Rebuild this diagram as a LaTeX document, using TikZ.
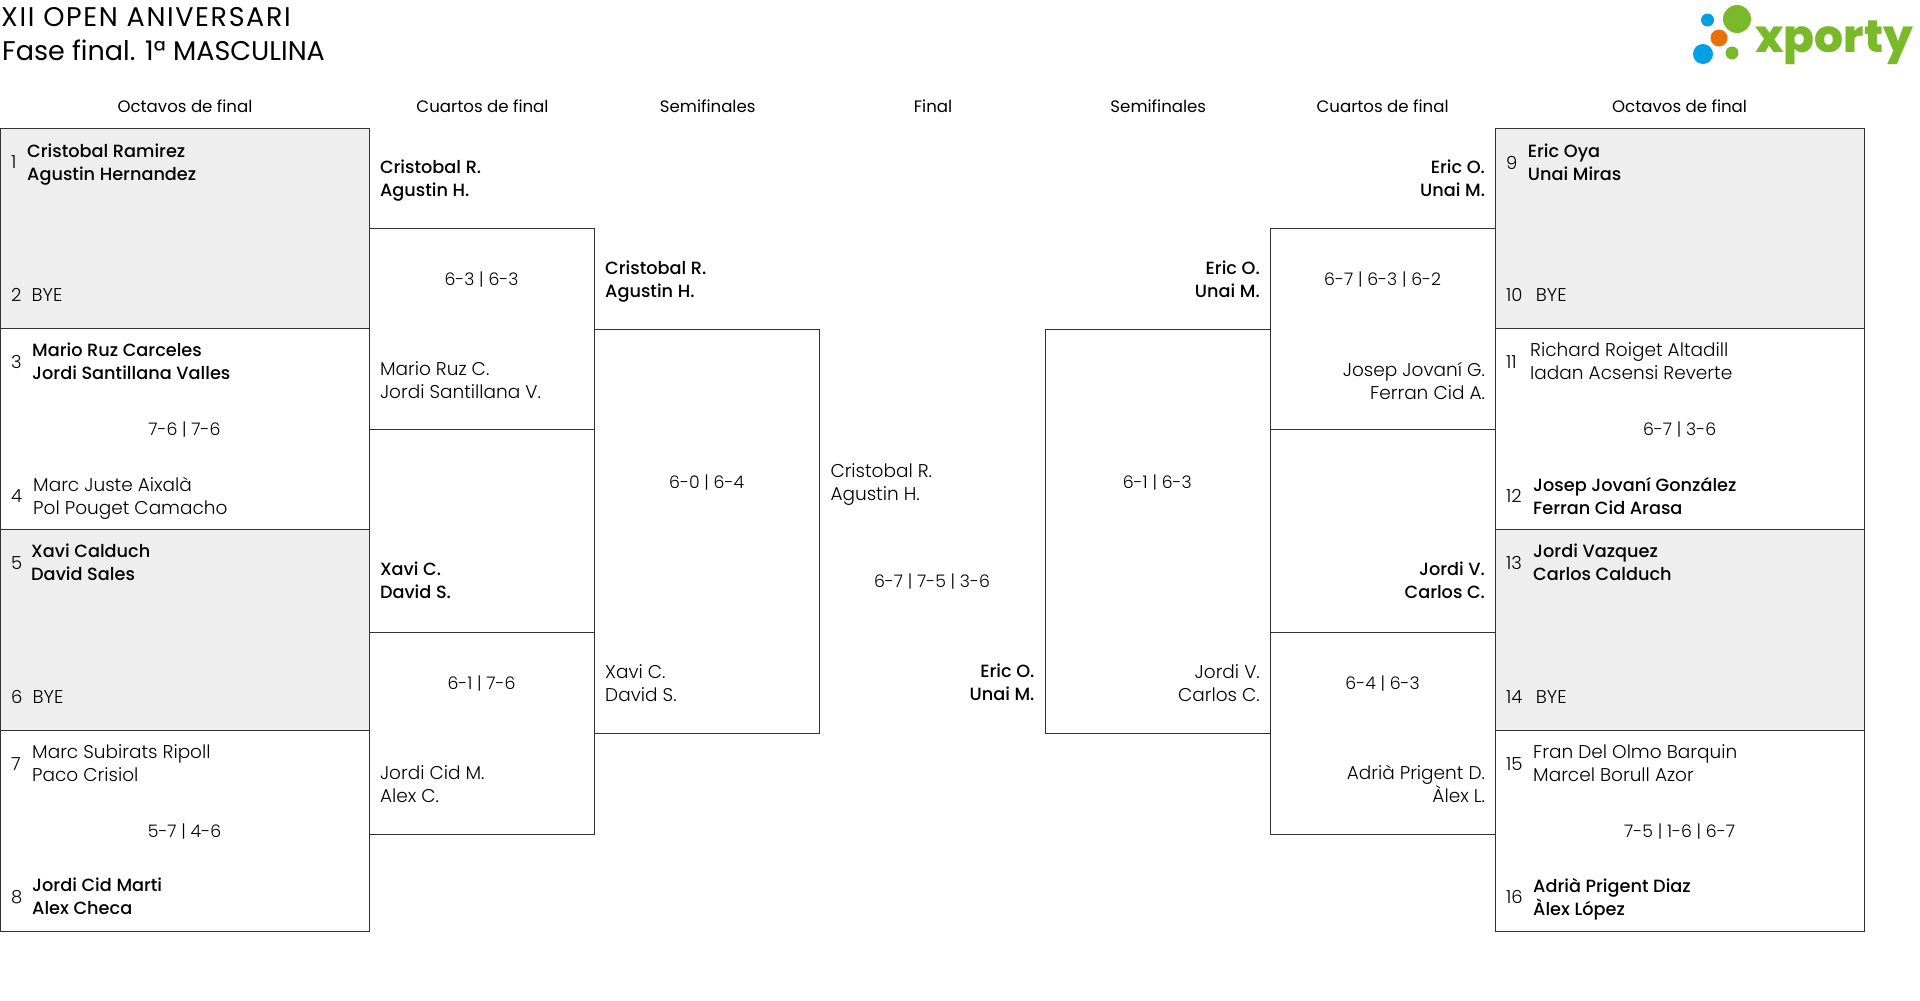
\documentclass[tikz,border=0pt]{standalone}
\usepackage{fontspec}
\setmainfont{Poppins Light}
\newfontfamily\regfont{Poppins}
\newfontfamily\winfont{Poppins Medium}
\newfontfamily\logofont{Poppins ExtraBold}
\definecolor{linegray}{HTML}{333333}
\definecolor{byegray}{HTML}{EEEEEE}
\definecolor{logogreen}{HTML}{7AB929}
\definecolor{logoblue}{HTML}{00A0E3}
\definecolor{logoorange}{HTML}{E8710A}
\tikzset{
  every node/.style={inner sep=0pt, text=black},
  box/.style={draw=linegray, line width=1pt},
  byebox/.style={box, fill=byegray},
  loser/.style={font=\fontsize{18.5}{23}\selectfont, align=left, execute at begin node=\strut, yshift=-3.9pt},
  winner/.style={font=\winfont\fontsize{17.7}{23}\selectfont, align=left, execute at begin node=\strut, yshift=-3.9pt},
  num/.style={font=\fontsize{18}{23}\selectfont, anchor=west, yshift=-1pt},
  score/.style={font=\fontsize{17.3}{23}\selectfont, yshift=-1pt},
  head/.style={font=\regfont\fontsize{16.6}{23}\selectfont},
  titletext/.style={font=\regfont\fontsize{27}{33}\selectfont, anchor=west}
}
\begin{document}
\begin{tikzpicture}[x=1pt,y=-1pt]
      \useasboundingbox (0,0) rectangle (1920,1001);

      % round 1 boxes
      \foreach \xa/\xb in {0.5/369.5, 1495.5/1864.7}{
        \filldraw[byebox] (\xa,128.7) rectangle (\xb,328.5);
        \draw[box] (\xa,328.5) rectangle (\xb,529.5);
        \filldraw[byebox] (\xa,529.5) rectangle (\xb,730.5);
        \draw[box] (\xa,730.5) rectangle (\xb,931);
      }
      % round 2 and 3 boxes
      \foreach \xa/\xb in {369.5/594.7, 1270.7/1495.5}{
        \draw[box] (\xa,228.3) rectangle (\xb,429.7);
        \draw[box] (\xa,632) rectangle (\xb,834.3);
      }
      \draw[box] (594.7,329) rectangle (819.7,733.3);
      \draw[box] (1045.7,329) rectangle (1270.7,733.3);

      % titles
      \node[titletext] (title1) at (1,17) {\addfontfeature{LetterSpace=6}XII OPEN ANIVERSARI};
      \node[titletext] (title2) at (2,50) {Fase final. 1ª MASCULINA};

      % round names
      \foreach \x/\lab [count=\i] in {185/Octavos de final, 482.5/Cuartos de final, 707.7/Semifinales, 933/Final,
        1158.3/Semifinales, 1382.6/Cuartos de final, 1679.6/Octavos de final}{
        \node[head] (head\i) at (\x,106.7) {\lab};
      }

      % seeds
      \foreach \x/\y [count=\i] in {11/161.5, 11/294, 11/361, 11/495.4, 11/562, 11/696, 11/762.6, 11/896,
        1506/161.5, 1506/294, 1506/361, 1506/495.4, 1506/562, 1506/696, 1506/762.6, 1506/896}{
        \node[num] (seed\i) at (\x,\y) {\i};
      }

      % left side, round 1
      \node[winner, anchor=west] (p1) at (27,161.5) {Cristobal Ramirez\\\strut Agustin Hernandez};
      \node[loser, anchor=west] (p2) at (31.5,292.8) {BYE};
      \node[winner, anchor=west] (p3) at (32,361) {Mario Ruz Carceles\\\strut Jordi Santillana Valles};
      \node[loser, anchor=west] (p4) at (33,495.4) {Marc Juste Aixalà\\\strut Pol Pouget Camacho};
      \node[winner, anchor=west] (p5) at (31,562) {Xavi Calduch\\\strut David Sales};
      \node[loser, anchor=west] (p6) at (32.5,694.8) {BYE};
      \node[loser, anchor=west] (p7) at (32,762.6) {Marc Subirats Ripoll\\\strut Paco Crisiol};
      \node[winner, anchor=west] (p8) at (32,896) {Jordi Cid Marti\\\strut Alex Checa};
      \node[score] (s1) at (184.5,428.6) {7-6 | 7-6};
      \node[score] (s2) at (184.5,830.3) {5-7 | 4-6};

      % left side, round 2
      \node[winner, anchor=west] (q1) at (379.8,177.4) {Cristobal R.\\\strut Agustin H.};
      \node[score] (s3) at (481.5,279) {6-3 | 6-3};
      \node[loser, anchor=west] (q2) at (379.8,380) {Mario Ruz C.\\\strut Jordi Santillana V.};
      \node[winner, anchor=west] (q3) at (379.8,580) {Xavi C.\\\strut David S.};
      \node[score] (s4) at (481.5,683) {6-1 | 7-6};
      \node[loser, anchor=west] (q4) at (379.8,783.5) {Jordi Cid M.\\\strut Alex C.};

      % left side, semifinal
      \node[winner, anchor=west] (t1) at (605,279) {Cristobal R.\\\strut Agustin H.};
      \node[score] (s5) at (706.7,481.5) {6-0 | 6-4};
      \node[loser, anchor=west] (t2) at (605,683) {Xavi C.\\\strut David S.};

      % final
      \node[loser, anchor=west] (f1) at (830.3,481.5) {Cristobal R.\\\strut Agustin H.};
      \node[score] (s6) at (932,581) {6-7 | 7-5 | 3-6};
      \node[winner, anchor=east, align=right] (f2) at (1034.7,682) {Eric O.\\\strut Unai M.};

      % right side, semifinal
      \node[winner, anchor=east, align=right] (t3) at (1260,279) {Eric O.\\\strut Unai M.};
      \node[score] (s7) at (1157.3,481.5) {6-1 | 6-3};
      \node[loser, anchor=east, align=right] (t4) at (1260,683) {Jordi V.\\\strut Carlos C.};

      % right side, round 2
      \node[winner, anchor=east, align=right] (q5) at (1485.2,177.4) {Eric O.\\\strut Unai M.};
      \node[score] (s8) at (1382.6,279) {6-7 | 6-3 | 6-2};
      \node[loser, anchor=east, align=right] (q6) at (1485.2,380) {Josep Jovaní G.\\\strut Ferran Cid A.};
      \node[winner, anchor=east, align=right] (q7) at (1485.2,580) {Jordi V.\\\strut Carlos C.};
      \node[score] (s9) at (1382.6,683) {6-4 | 6-3};
      \node[loser, anchor=east, align=right] (q8) at (1485.2,783.5) {Adrià Prigent D.\\\strut Àlex L.};

      % right side, round 1
      \node[winner, anchor=west] (p9) at (1527.7,161.5) {Eric Oya\\\strut Unai Miras};
      \node[loser, anchor=west] (p10) at (1535.7,292.8) {BYE};
      \node[loser, anchor=west] (p11) at (1530,361) {Richard Roiget Altadill\\\strut Iadan Acsensi Reverte};
      \node[winner, anchor=west] (p12) at (1533,495.4) {Josep Jovaní González\\\strut Ferran Cid Arasa};
      \node[winner, anchor=west] (p13) at (1533,562) {Jordi Vazquez\\\strut Carlos Calduch};
      \node[loser, anchor=west] (p14) at (1535.7,694.8) {BYE};
      \node[loser, anchor=west] (p15) at (1533,762.6) {Fran Del Olmo Barquin\\\strut Marcel Borull Azor};
      \node[winner, anchor=west] (p16) at (1533,896) {Adrià Prigent Diaz\\\strut Àlex López};
      \node[score] (s10) at (1679.6,428.6) {6-7 | 3-6};
      \node[score] (s11) at (1679.6,830.3) {7-5 | 1-6 | 6-7};

      % logo
      \fill[logogreen] (1737,19) circle (14);
      \fill[logogreen] (1732,53) circle (6.5);
      \fill[logoblue] (1707.5,20) circle (6.5);
      \fill[logoblue] (1703,54) circle (10);
      \fill[logoorange] (1719,38) circle (8.5);
      \node[font=\logofont\fontsize{45.5}{47}\selectfont, text=logogreen, anchor=base west] (logo) at (1755,52) {xporty};
    \end{tikzpicture}
\end{document}
